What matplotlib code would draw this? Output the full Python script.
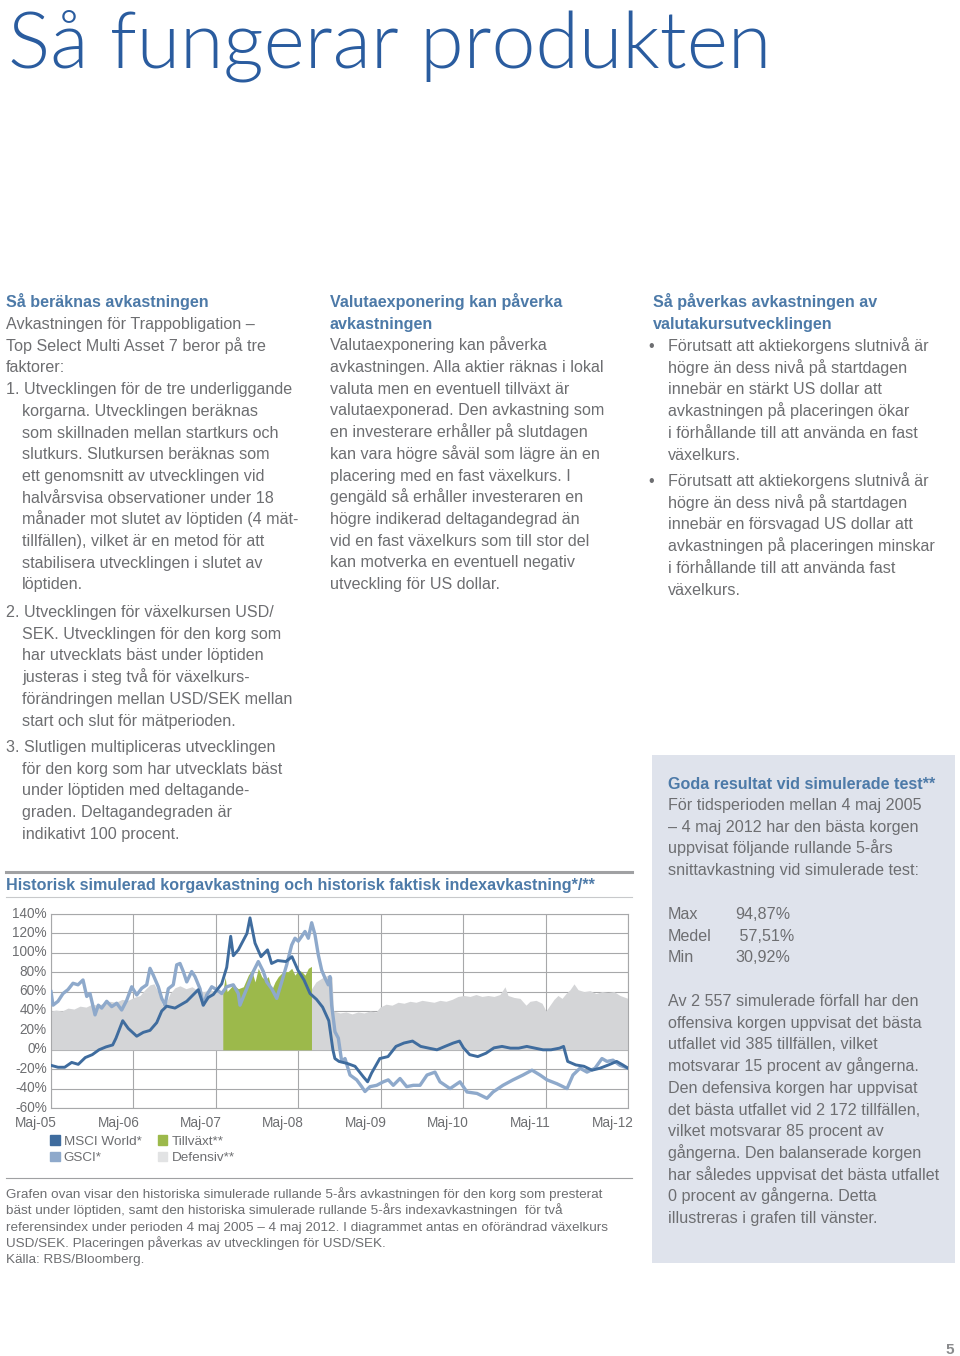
import numpy as np
import matplotlib
matplotlib.use('Agg')
import matplotlib.pyplot as plt
import matplotlib.transforms as mtransforms
from matplotlib.patches import Patch, Rectangle
from matplotlib.lines import Line2D

plt.rcParams['font.family'] = ['Liberation Sans', 'DejaVu Sans']

# --- data: months since maj 2005, value in percent ---
msci_m = [0, 1.02, 1.99, 3.01, 3.97, 4.99, 6.01, 6.99, 8.01, 8.98, 9.46, 10.44, 11.25, 12.48, 13.44,
          14.41, 15.39, 16.12, 16.84, 18.05, 19.76, 21.44, 22.17, 22.9, 23.63, 24.85, 25.58, 26.16,
          26.54, 27.27, 28.53, 28.97, 29.7, 30.57, 31.52, 32.11, 33.0, 34.2, 35.08, 35.96, 36.83,
          37.71, 38.65, 39.54, 40.44, 41.04, 41.33, 41.93, 43.09, 44.26, 45.49, 46.09, 46.67, 47.87,
          49.06, 50.22, 51.39, 52.63, 53.82, 55.0, 56.19, 57.36, 58.57, 59.47, 60.05, 60.95, 62.13,
          63.33, 64.49, 65.66, 66.89, 68.09, 69.27, 70.46, 71.63, 72.79, 74.03, 74.62, 75.22, 76.4,
          77.59, 78.76, 79.92, 81.16, 82.35, 83.24, 84]
msci_v = [-16, -18, -18, -13, -15, -8, -5, 0, 3, 5, 12, 30, 22, 14, 18,
          20, 28, 40, 45, 43, 50, 62, 46, 54, 57, 68, 85, 117,
          97, 103, 120, 136, 110, 96, 103, 89, 92, 91, 96, 82, 72,
          58, 52, 44, 30, 0, -9, -12, -14, -17, -28, -33, -24, -9,
          -7, 3.5, 7, 9, 3.5, 1.7, 0, 3.5, 7, 9, 2, -5, -7,
          -3.5, 2, 3.5, 1.7, 1.7, 3.5, 1.7, 0, 0, 1.7, 3.5, -12, -15.6,
          -17, -21, -19, -15.6, -12, -15.6, -19]

gsci_m = [0, 0.29, 1.02, 1.75, 2.47, 3.2, 3.93, 4.66, 5.2, 5.68, 6.41, 6.89, 7.38, 8.11, 8.84,
          9.56, 10.29, 11.02, 11.75, 12.48, 13.2, 13.93, 14.41, 14.89, 15.62, 16.12, 16.6, 17.08,
          17.8, 18.3, 18.78, 19.26, 19.76, 20.48, 20.96, 21.69, 22.17, 22.67, 23.4, 24.12, 24.85,
          25.58, 26.54, 27.27, 27.51, 28.49, 29.45, 30.18, 30.91, 31.4, 32.13, 32.86, 33.59, 34.31,
          35.04, 35.52, 36.0, 36.5, 36.98, 37.46, 37.95, 38.43, 38.91, 39.41, 39.89, 40.37, 40.62,
          40.86, 41.34, 41.83, 42.32, 42.8, 43.53, 44.5, 45.23, 45.71, 46.44, 47.42, 48.38, 49.1,
          49.83, 50.81, 51.78, 52.74, 53.72, 54.74, 55.9, 56.63, 58.09, 59.54, 60.56, 62.02, 63.47,
          64.35, 65.8, 67.26, 68.71, 70.02, 71.19, 72.21, 73.66, 75.12, 75.99, 77.01, 78.03, 79.2,
          80.21, 80.94, 81.81, 82.83, 84]
gsci_v = [60, 46, 50, 58, 62, 68.6, 67, 72, 55, 58, 36, 46, 43, 50, 44.5,
          48, 41, 51, 65, 56.5, 63.4, 67, 84, 77, 65, 53, 46, 63,
          67, 87.6, 89, 80.7, 70, 80.7, 75.5, 63, 46, 56.5, 65, 62, 58,
          65, 67, 58, 46, 63, 80.7, 91, 80.7, 70, 63, 53, 70, 87.6,
          108, 115, 112, 117, 122, 115, 131, 118.6, 98, 82, 74, 67, 75.5,
          46, 18.6, 12, -12, -9, -26, -31, -38, -43, -38, -36.6, -33, -31,
          -36.6, -29.6, -38, -36.6, -36.6, -26, -23, -33, -40, -33, -43.5, -45, -50,
          -43.5, -36.6, -31, -26, -21, -26, -31, -35, -40, -26, -19, -23, -19,
          -9, -12, -10.7, -16, -19]

tillvaxt_m = [25.01, 25.35, 25.64, 26.54, 27.27, 28.0, 28.73, 29.22, 29.7, 30.18, 30.67, 31.15,
              31.63, 32.13, 32.61, 33.09, 33.82, 34.54, 35.04, 35.52, 36.0, 36.5, 36.98, 37.46, 37.92]
tillvaxt_v = [59, 75, 60, 67, 63, 65, 77, 82, 70, 84, 75.5, 72,
              75.5, 62, 70, 75.5, 80.7, 80.7, 84, 77, 82, 80.7, 77, 84, 86]

defensiv_m = [0, 0.73, 1.6, 2.47, 3.35, 4.22, 5.1, 5.97, 6.84, 7.72, 8.59, 9.46, 10.34, 11.21,
              12.08, 12.96, 13.68, 14.41, 15.0, 15.58, 16.16, 16.74, 17.32, 18.05, 18.78, 19.65,
              20.53, 21.4, 22.27, 23.15, 24.02, 24.89, 31.3, 37.85, 38.58, 39.45, 40.32, 40.91,
              41.13, 42.07, 42.95, 43.82, 44.69, 45.57, 46.44, 47.31, 47.9, 48.77, 49.64, 50.52,
              51.39, 52.26, 53.14, 54.01, 54.88, 55.76, 56.63, 57.5, 58.38, 59.25, 60.12, 61.0,
              61.87, 62.74, 63.62, 64.49, 65.36, 66.09, 66.53, 67.4, 68.28, 69.15, 69.73, 70.61,
              71.48, 72.06, 72.64, 73.23, 73.81, 74.39, 74.97, 75.56, 76.14, 76.72, 77.59, 78.47,
              79.34, 80.21, 81.09, 81.96, 82.83, 84]
defensiv_v = [40, 41, 40, 43, 42, 45, 44, 47, 46, 48, 50, 49, 52, 51,
              54, 56, 62, 67, 68, 60, 47, 48, 58, 64, 66, 63,
              65, 61, 60, 62, 60, 58, 60, 62, 70, 74, 77, 75,
              40, 38, 39, 37, 39, 38, 40, 39, 44, 47, 46, 49,
              48, 50, 49, 51, 50, 49, 51, 50, 52, 55, 56, 55,
              57, 55, 56, 55, 57, 65, 56, 54, 53, 46, 50, 51,
              48, 40, 46, 52, 56, 53, 58, 62, 68, 62, 60, 61,
              58, 60, 59, 60, 56, 53]

xtick_m = [0, 12, 24, 36, 48, 60, 72, 84]
xtick_labels = ['Maj-05', 'Maj-06', 'Maj-07', 'Maj-08', 'Maj-09', 'Maj-10', 'Maj-11', 'Maj-12']
ytick_v = [-60, -40, -20, 0, 20, 40, 60, 80, 100, 120, 140]

legend_labels = ['MSCI World*', 'GSCI*', 'Tillväxt**', 'Defensiv**']

# --- page text ---
title = 'Så fungerar produkten'
col1_head = ['Så beräknas avkastningen']
col1_lines = [
    (6, 'Avkastningen för Trappobligation –'),
    (6, 'Top Select Multi Asset 7 beror på tre'),
    (6, 'faktorer:'),
    (6, '1. Utvecklingen för de tre underliggande'),
    (22, 'korgarna. Utvecklingen beräknas'),
    (22, 'som skillnaden mellan startkurs och'),
    (22, 'slutkurs. Slutkursen beräknas som'),
    (22, 'ett genomsnitt av utvecklingen vid'),
    (22, 'halvårsvisa observationer under 18'),
    (22, 'månader mot slutet av löptiden (4 mät-'),
    (22, 'tillfällen), vilket är en metod för att'),
    (22, 'stabilisera utvecklingen i slutet av'),
    (22, 'löptiden.'),
]
col1_lines2 = [
    (6, '2. Utvecklingen för växelkursen USD/'),
    (22, 'SEK. Utvecklingen för den korg som'),
    (22, 'har utvecklats bäst under löptiden'),
    (22, 'justeras i steg två för växelkurs-'),
    (22, 'förändringen mellan USD/SEK mellan'),
    (22, 'start och slut för mätperioden.'),
]
col1_lines3 = [
    (6, '3. Slutligen multipliceras utvecklingen'),
    (22, 'för den korg som har utvecklats bäst'),
    (22, 'under löptiden med deltagande-'),
    (22, 'graden. Deltagandegraden är'),
    (22, 'indikativt 100 procent.'),
]
col2_head = ['Valutaexponering kan påverka', 'avkastningen']
col2_lines = ['Valutaexponering kan påverka',
              'avkastningen. Alla aktier räknas i lokal',
              'valuta men en eventuell tillväxt är',
              'valutaexponerad. Den avkastning som',
              'en investerare erhåller på slutdagen',
              'kan vara högre såväl som lägre än en',
              'placering med en fast växelkurs. I',
              'gengäld så erhåller investeraren en',
              'högre indikerad deltagandegrad än',
              'vid en fast växelkurs som till stor del',
              'kan motverka en eventuell negativ',
              'utveckling för US dollar.']
col3_head = ['Så påverkas avkastningen av', 'valutakursutvecklingen']
col3_b1 = ['Förutsatt att aktiekorgens slutnivå är',
           'högre än dess nivå på startdagen',
           'innebär en stärkt US dollar att',
           'avkastningen på placeringen ökar',
           'i förhållande till att använda en fast',
           'växelkurs.']
col3_b2 = ['Förutsatt att aktiekorgens slutnivå är',
           'högre än dess nivå på startdagen',
           'innebär en försvagad US dollar att',
           'avkastningen på placeringen minskar',
           'i förhållande till att använda fast',
           'växelkurs.']
box_head = 'Goda resultat vid simulerade test**'
box_lines1 = ['För tidsperioden mellan 4 maj 2005',
              '– 4 maj 2012 har den bästa korgen',
              'uppvisat följande rullande 5-års',
              'snittavkastning vid simulerade test:']
stat_names = ['Max', 'Medel', 'Min']
stat_values = ['94,87%', ' 57,51%', '30,92%']
box_lines2 = ['Av 2 557 simulerade förfall har den',
              'offensiva korgen uppvisat det bästa',
              'utfallet vid 385 tillfällen, vilket',
              'motsvarar 15 procent av gångerna.',
              'Den defensiva korgen har uppvisat',
              'det bästa utfallet vid 2 172 tillfällen,',
              'vilket motsvarar 85 procent av',
              'gångerna. Den balanserade korgen',
              'har således uppvisat det bästa utfallet',
              '0 procent av gångerna. Detta',
              'illustreras i grafen till vänster.']
chart_title = 'Historisk simulerad korgavkastning och historisk faktisk indexavkastning*/**'
caption = ['Grafen ovan visar den historiska simulerade rullande 5-års avkastningen för den korg som presterat',
           'bäst under löptiden, samt den historiska simulerade rullande 5-års indexavkastningen  för två',
           'referensindex under perioden 4 maj 2005 – 4 maj 2012. I diagrammet antas en oförändrad växelkurs',
           'USD/SEK. Placeringen påverkas av utvecklingen för USD/SEK.',
           'Källa: RBS/Bloomberg.']

# --- colours ---
TXT = '#6d6e71'
HEAD = '#4d7aa8'
C_MSCI = '#3f6c9e'
C_GSCI = '#8ea9cb'
C_GREEN = '#9cb94b'
C_GRAY = '#d4d5d7'
GRID = '#a7a8aa'

W, H = 960, 1356
fig = plt.figure(figsize=(W / 100, H / 100), dpi=100)
fig.patch.set_facecolor('white')

BODY = 11.6


def put(x, y, s, size=BODY, color=TXT, weight='normal', **kw):
    # y is the baseline in pixels from the top
    return fig.text(x / W, 1 - y / H, s, fontsize=size, color=color, weight=weight,
                    ha=kw.pop('ha', 'left'), va='baseline', **kw)


def hline(x0, x1, y, lw, color):
    fig.add_artist(Line2D([x0 / W, x1 / W], [1 - y / H, 1 - y / H], lw=lw, color=color,
                          transform=fig.transFigure))


# title
put(8, 68, title, size=56.8, color='#2a5c9f', weight=300, family=['Lato', 'Liberation Sans'])

# column 1
BL = 6
put(6, 301 + BL, col1_head[0], weight='bold', color=HEAD)
y = 323
for x, s in col1_lines:
    put(x, y + BL, s)
    y += 21.7
y = 611
for x, s in col1_lines2:
    put(x, y + BL, s)
    y += 21.7
y = 746
for x, s in col1_lines3:
    put(x, y + BL, s)
    y += 21.7

# column 2
y = 301
for s in col2_head:
    put(330, y + BL, s, weight='bold', color=HEAD)
    y += 21.7
for s in col2_lines:
    put(330, y + BL, s)
    y += 21.7

# column 3
y = 301
for s in col3_head:
    put(653, y + BL, s, weight='bold', color=HEAD)
    y += 21.7
for block, y0 in ((col3_b1, 345), (col3_b2, 480)):
    put(648, y0 + BL, '•')
    y = y0
    for s in block:
        put(668, y + BL, s)
        y += 21.7

# grey box on the right
fig.add_artist(Rectangle((652 / W, 1 - 1263 / H), 303 / W, 508 / H, transform=fig.transFigure,
                         facecolor='#dfe3ec', edgecolor='none', zorder=0))
put(668, 783 + BL, box_head, weight='bold', color=HEAD)
y = 804
for s in box_lines1:
    put(668, y + BL, s)
    y += 21.7
y = 913
for n, v in zip(stat_names, stat_values):
    put(668, y + BL, n)
    put(735, y + BL, v)
    y += 21.7
y = 1000
for s in box_lines2:
    put(668, y + BL, s)
    y += 21.7

# chart header
hline(6, 632, 872, 2.2, '#a0a1a3')
put(6, 884 + BL, chart_title, size=11.6, weight='bold', color=HEAD)
hline(6, 632, 897, 0.8, '#c8c9cb')

# chart
ax = fig.add_axes([51 / W, 1 - 1108 / H, 577 / W, 194 / H])
ax.fill_between(defensiv_m, 0, defensiv_v, color=C_GRAY, lw=0, zorder=1)
ax.fill_between(tillvaxt_m, 0, tillvaxt_v, color=C_GREEN, lw=0, zorder=2)
ax.plot(gsci_m, gsci_v, color=C_GSCI, lw=2.4, zorder=3, solid_joinstyle='round')
ax.plot(msci_m, msci_v, color=C_MSCI, lw=2.1, zorder=4, solid_joinstyle='round')
ax.set_xlim(0, 84)
ax.set_ylim(-60, 140)
ax.set_xticks(xtick_m)
ax.set_xticklabels(xtick_labels)
ax.set_yticks(ytick_v)
ax.set_yticklabels([f'{v}%' for v in ytick_v])
ax.grid(True, color=GRID, lw=0.8)
ax.set_axisbelow(True)
for sp in ax.spines.values():
    sp.set_color(GRID)
    sp.set_linewidth(0.8)
ax.tick_params(length=0, labelsize=9.8, labelcolor=TXT)
ax.tick_params(axis='y', pad=3)
ax.tick_params(axis='x', pad=6)
shift = mtransforms.ScaledTranslation(-15 / 100, 0, fig.dpi_scale_trans)
for lbl in ax.get_xticklabels():
    lbl.set_transform(lbl.get_transform() + shift)
up = mtransforms.ScaledTranslation(0, 2 / 100, fig.dpi_scale_trans)
for lbl in ax.get_yticklabels():
    lbl.set_transform(lbl.get_transform() + up)

handles = [Patch(color=C_MSCI), Patch(color=C_GSCI), Patch(color=C_GREEN), Patch(color='#e2e3e4')]
leg = ax.legend(handles, legend_labels, ncol=2, loc='upper left',
                bbox_to_anchor=(50 / W, 1 - 1135 / H), bbox_transform=fig.transFigure,
                frameon=False, fontsize=9.7, handlelength=0.72, handleheight=0.72,
                handletextpad=0.3, columnspacing=1.2, labelspacing=0.32, borderpad=0,
                borderaxespad=0)
for t in leg.get_texts():
    t.set_color(TXT)

hline(6, 632, 1178, 0.8, '#a0a1a3')

# caption
y = 1193
for s in caption:
    put(6, y + 5, s, size=9.7)
    y += 16.3

# page number
put(950, 1354, '5', size=11, weight='bold', color='#8a8b8d', ha='center')

fig.savefig('out.png', dpi=100, facecolor='white')
